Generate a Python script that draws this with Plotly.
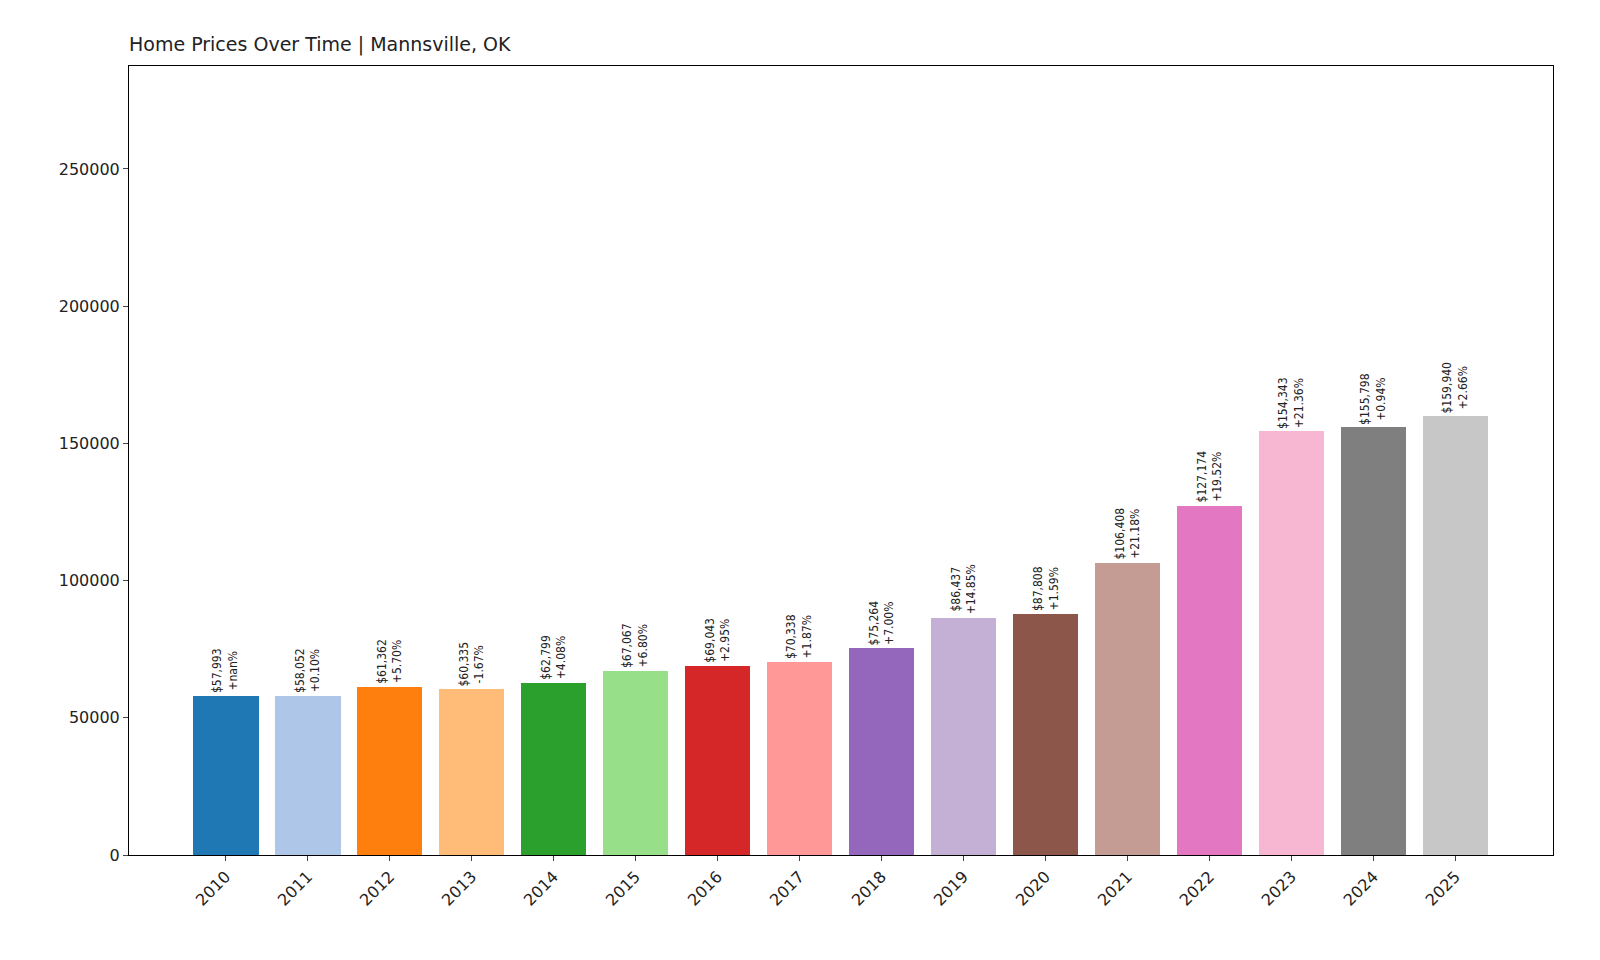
import plotly.graph_objects as go

years = list(range(2010, 2026))
values = [57993, 58052, 61362, 60335, 62799, 67067, 69043, 70338, 75264, 86437, 87808, 106408, 127174, 154343, 155798, 159940]
changes = ["+nan%", "+0.10%", "+5.70%", "-1.67%", "+4.08%", "+6.80%", "+2.95%", "+1.87%", "+7.00%", "+14.85%", "+1.59%", "+21.18%", "+19.52%", "+21.36%", "+0.94%", "+2.66%"]
colors = ["#1f77b4", "#aec7e8", "#ff7f0e", "#ffbb78", "#2ca02c", "#98df8a", "#d62728", "#ff9896",
          "#9467bd", "#c5b0d5", "#8c564b", "#c49c94", "#e377c2", "#f7b6d2", "#7f7f7f", "#c7c7c7"]

xs = list(range(len(years)))
fig = go.Figure(go.Bar(x=xs, y=values, marker=dict(color=colors, line=dict(width=0)), width=0.8))
for i, (v, c) in enumerate(zip(values, changes)):
    fig.add_annotation(x=i, y=v, text=f"${v:,}<br>{c}", textangle=-90, showarrow=False,
                       yanchor="bottom", xanchor="center", yshift=1,
                       font=dict(size=12, color="#222", family="DejaVu Sans Condensed, DejaVu Sans"))
fig.update_layout(
    width=1600, height=960, plot_bgcolor="white", paper_bgcolor="white",
    margin=dict(l=121, r=55, t=58, b=113, autoexpand=False),
    font=dict(family="DejaVu Sans", size=16, color="#222"),
    title=dict(text="Home Prices Over Time | Mannsville, OK", x=121/1600, xanchor="left",
               y=1-36/960, yanchor="middle", font=dict(size=19)),
    showlegend=False, bargap=0,
)
fig.update_xaxes(range=[-1.18, 16.19], tickvals=xs, ticktext=[str(y) for y in years], tickangle=-45,
                 showgrid=False, showline=True, linecolor="black", mirror=True, ticks="outside", ticklen=5,
                 automargin=False)
fig.update_yaxes(range=[0, 287500], tickvals=[0, 50000, 100000, 150000, 200000, 250000], tickformat="d",
                 showgrid=False, showline=True, linecolor="black", mirror=True, ticks="outside", ticklen=5,
                 zeroline=False, automargin=False)
fig.write_html("out.html")
